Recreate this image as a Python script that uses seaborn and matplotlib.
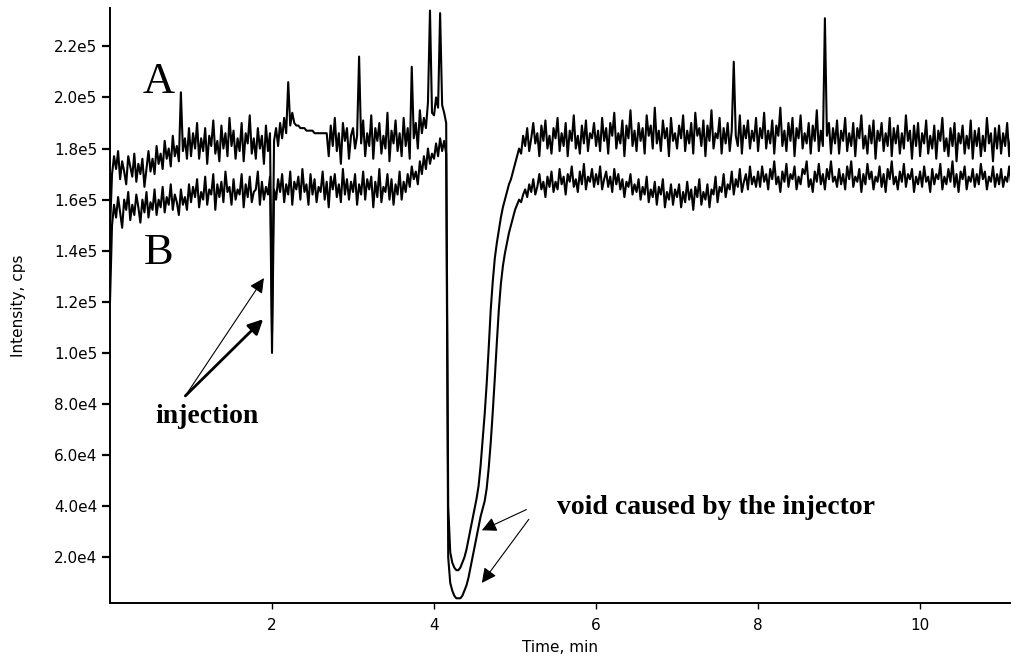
import numpy as np
import pandas as pd
import matplotlib
matplotlib.use('Agg')
import matplotlib.pyplot as plt
import seaborn as sns
from matplotlib.ticker import FuncFormatter

# ---------------------------------------------------------------
# data (intensity in thousands of cps),
# one value every 0.025 min, 40 values per minute (two lines each)
# ---------------------------------------------------------------
STEP_MIN = 0.025

trace_a = [
    # 0 min
    148, 170, 177, 172, 179, 168, 175, 171, 166, 177, 173, 169, 178, 167, 174, 170, 176, 165, 172, 179,
    171, 176, 170, 181, 174, 178, 172, 183, 176, 180, 173, 185, 177, 181, 175, 202, 179, 184, 176, 188,
    # 1 min
    177, 186, 180, 190, 176, 184, 179, 188, 174, 185, 181, 191, 178, 183, 175, 189, 180, 186, 177, 192,
    181, 187, 176, 184, 179, 190, 175, 186, 182, 193, 178, 184, 176, 188, 180, 185, 174, 189, 179, 186,
    # 2 min (injection)
    108, 183, 188, 181, 190, 184, 192, 186, 206, 189, 194, 190, 189, 189, 188, 188, 188, 187, 187, 187,
    187, 186, 186, 186, 186, 186, 186, 186, 177, 189, 181, 192, 179, 186, 174, 190, 183, 188, 176, 185,
    # 3 min
    188, 180, 185, 216, 182, 191, 177, 186, 181, 193, 176, 188, 183, 190, 178, 185, 180, 194, 175, 187,
    182, 191, 179, 186, 177, 192, 181, 188, 176, 212, 184, 190, 180, 195, 186, 192, 188, 198, 234, 194,
    # 4 min (void)
    193, 200, 196, 233, 197, 194, 190, 40, 22, 18, 16, 15, 15, 16, 18, 20, 23, 27, 31, 35,
    39, 43, 48, 56, 66, 76, 88, 102, 117, 128, 137, 143, 148, 153, 157, 160, 163, 166, 168, 171,
    # 5 min
    174, 177, 180, 178, 185, 181, 188, 179, 184, 190, 182, 186, 177, 189, 183, 191, 180, 185, 178, 188,
    184, 192, 179, 186, 181, 190, 177, 187, 183, 193, 180, 185, 178, 189, 182, 191, 179, 186, 184, 190,
    # 6 min
    181, 187, 179, 192, 183, 188, 178, 190, 185, 194, 180, 186, 182, 191, 177, 189, 184, 195, 181, 187,
    179, 190, 183, 188, 178, 193, 185, 189, 180, 196, 182, 187, 179, 191, 184, 188, 177, 192, 183, 186,
    # 7 min
    180, 189, 184, 193, 179, 187, 182, 190, 178, 194, 185, 188, 181, 191, 177, 189, 183, 195, 180, 186,
    184, 192, 178, 188, 182, 190, 179, 187, 214, 185, 181, 193, 178, 189, 184, 191, 180, 187, 183, 192,
    # 8 min
    179, 188, 184, 194, 180, 187, 182, 191, 178, 189, 185, 196, 181, 187, 179, 190, 183, 192, 177, 188,
    184, 193, 180, 186, 182, 190, 178, 189, 183, 195, 179, 187, 181, 231, 185, 190, 178, 188, 182, 191,
    # 9 min
    178, 187, 183, 192, 179, 186, 181, 190, 177, 188, 184, 193, 180, 185, 178, 189, 182, 191, 176, 187,
    183, 190, 179, 186, 181, 192, 177, 188, 182, 189, 178, 186, 180, 193, 183, 187, 176, 189, 181, 190,
    # 10 min
    177, 186, 182, 191, 178, 185, 180, 189, 176, 187, 183, 192, 179, 184, 177, 188, 181, 190, 175, 186,
    182, 189, 178, 185, 180, 191, 176, 187, 181, 188, 177, 185, 179, 192, 182, 186, 175, 188, 180, 189,
    # 11 min
    178, 186, 181, 190, 177, 185,
]

trace_b = [
    # 0 min
    120, 150, 158, 153, 161, 155, 149, 160, 156, 163, 152, 158, 154, 162, 157, 151, 160, 155, 163, 153,
    159, 156, 164, 154, 160, 157, 165, 155, 161, 158, 166, 156, 162, 159, 154, 164, 158, 161, 156, 166,
    # 1 min
    159, 165, 161, 168, 157, 163, 160, 169, 158, 164, 162, 170, 156, 166, 161, 167, 159, 171, 163, 165,
    158, 168, 160, 164, 162, 170, 157, 166, 161, 169, 159, 163, 164, 171, 158, 167, 160, 165, 162, 169,
    # 2 min (injection)
    100, 164, 160, 168, 163, 170, 159, 166, 162, 171, 158, 167, 164, 169, 160, 172, 163, 166, 158, 170,
    162, 168, 159, 165, 163, 171, 160, 167, 157, 169, 164, 170, 161, 166, 159, 172, 162, 168, 160, 167,
    # 3 min
    163, 170, 158, 166, 162, 171, 160, 168, 164, 169, 157, 167, 161, 172, 159, 165, 163, 170, 160, 168,
    158, 166, 162, 171, 160, 167, 163, 170, 165, 173, 168, 171, 166, 175, 170, 177, 172, 180, 174, 178,
    # 4 min (void)
    176, 182, 177, 184, 179, 183, 178, 20, 10, 7, 5, 4, 4, 4, 5, 7, 9, 12, 16, 20,
    24, 28, 32, 36, 39, 42, 47, 55, 65, 77, 90, 104, 117, 127, 134, 139, 143, 147, 150, 153,
    # 5 min
    156, 158, 160, 159, 162, 164, 161, 166, 163, 168, 162, 165, 170, 164, 167, 161, 169, 165, 171, 163,
    167, 164, 172, 166, 169, 162, 170, 167, 173, 165, 168, 163, 171, 166, 174, 164, 169, 167, 172, 165,
    # 6 min
    170, 166, 173, 164, 168, 171, 165, 169, 163, 172, 166, 170, 164, 168, 161, 167, 165, 170, 162, 166,
    163, 168, 160, 165, 162, 169, 159, 164, 161, 167, 158, 165, 162, 168, 157, 163, 160, 166, 158, 164,
    # 7 min
    161, 166, 157, 163, 159, 167, 160, 164, 156, 165, 161, 168, 158, 163, 160, 166, 157, 164, 162, 169,
    159, 165, 163, 170, 161, 166, 164, 171, 162, 168, 165, 172, 163, 167, 170, 164, 173, 166, 169, 165,
    # 8 min
    171, 165, 173, 167, 170, 164, 172, 168, 175, 166, 169, 163, 171, 167, 174, 165, 170, 168, 173, 164,
    169, 166, 172, 170, 175, 165, 168, 163, 171, 167, 174, 166, 170, 164, 172, 168, 175, 167, 169, 165,
    # 9 min
    172, 166, 170, 164, 173, 168, 175, 165, 169, 167, 172, 163, 170, 166, 174, 168, 171, 164, 169, 167,
    173, 165, 170, 163, 172, 168, 175, 166, 169, 164, 171, 167, 174, 165, 170, 168, 172, 163, 169, 166,
    # 10 min
    171, 165, 173, 167, 169, 163, 172, 166, 170, 168, 174, 164, 169, 166, 172, 167, 175, 165, 170, 163,
    171, 168, 173, 164, 169, 167, 172, 165, 170, 166, 174, 168, 171, 164, 169, 167, 173, 165, 170, 166,
    # 11 min
    172, 165, 169, 167, 173, 166,
]

y_ticks = [2e4, 4e4, 6e4, 8e4, 1e5, 1.2e5, 1.4e5, 1.6e5, 1.8e5, 2.0e5, 2.2e5]
x_ticks = [2, 4, 6, 8, 10]

assert len(trace_a) == 446 and len(trace_b) == 446, (len(trace_a), len(trace_b))

time_a = np.arange(len(trace_a)) * STEP_MIN
time_b = np.arange(len(trace_b)) * STEP_MIN
df = pd.DataFrame({
    'time': np.concatenate([time_a, time_b]),
    'intensity': np.array(trace_a + trace_b, dtype=float) * 1000,
    'trace': ['A'] * len(trace_a) + ['B'] * len(trace_b),
})

# ---------------------------------------------------------------
# plot
# ---------------------------------------------------------------
sns.set_style('ticks')
plt.rcParams['font.family'] = ['DejaVu Sans']
for key in ['text.color', 'axes.labelcolor', 'xtick.color', 'ytick.color']:
    plt.rcParams[key] = 'black'

fig = plt.figure(figsize=(10.15, 6.61), dpi=100)
ax = fig.add_axes([110 / 1015, 1 - 603 / 661, 900 / 1015, 595 / 661])

sns.lineplot(data=df, x='time', y='intensity', hue='trace', palette=['black', 'black'],
             estimator=None, sort=False, legend=False, linewidth=1.5, ax=ax)

ax.set_xlim(0, 11.11)
ax.set_ylim(2150, 235000)
ax.set_xticks(x_ticks)
ax.set_yticks(y_ticks)


def sci_label(v, pos):
    mant, exp = f"{v:.1e}".split('e')
    return f"{mant}e{int(exp)}"


ax.yaxis.set_major_formatter(FuncFormatter(sci_label))
ax.tick_params(axis='y', direction='out', length=6, width=1.6, labelsize=11, pad=3)
ax.tick_params(axis='x', direction='out', length=4, width=1.0, labelsize=11, pad=7)

sns.despine(ax=ax)
for side in ['left', 'bottom']:
    ax.spines[side].set_linewidth(1.4)
    ax.spines[side].set_color('black')

ax.set_xlabel('Time, min', fontsize=11)
ax.set_ylabel('Intensity, cps', fontsize=11)
ax.xaxis.set_label_coords(0.5, -0.063)
ax.yaxis.set_label_coords(-0.093, 0.5)

# --- trace labels and notes ---
serif = ['Liberation Serif', 'DejaVu Serif']
ax.text(0.6, 206000, 'A', fontsize=32, family=serif, ha='center', va='center')
ax.text(0.6, 139000, 'B', fontsize=32, family=serif, ha='center', va='center')
ax.text(1.2, 75000, 'injection', fontsize=20, family=serif, fontweight='bold',
        ha='center', va='center')
ax.text(7.48, 39600, 'void caused by the injector', fontsize=20, family=serif,
        fontweight='bold', ha='center', va='center')

arrow_thin = dict(arrowstyle='-|>', color='black', lw=0.8, mutation_scale=22,
                  shrinkA=0, shrinkB=0)
arrow_thick = dict(arrowstyle='-|>', color='black', lw=2.0, mutation_scale=22,
                   shrinkA=0, shrinkB=0)
ax.annotate('', xy=(1.90, 129300), xytext=(0.93, 83200), arrowprops=arrow_thin)
ax.annotate('', xy=(1.89, 113200), xytext=(0.93, 83200), arrowprops=arrow_thick)
ax.annotate('', xy=(4.59, 30600), xytext=(5.14, 38700), arrowprops=arrow_thin)
ax.annotate('', xy=(4.59, 10000), xytext=(5.17, 34900), arrowprops=arrow_thin)

fig.savefig('out.png', dpi=100)
